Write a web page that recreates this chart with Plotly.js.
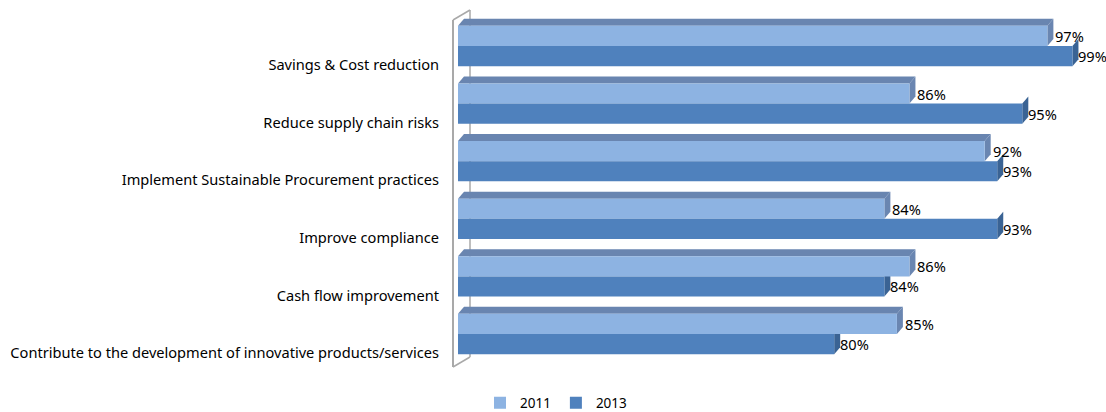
<!DOCTYPE html>
<html>
<head>
<meta charset="utf-8">
<script src="https://cdn.plot.ly/plotly-3.0.1.min.js"></script>
<style>
  html, body { margin: 0; padding: 0; background: #ffffff; }
  #chart { width: 1106px; height: 412px; }
</style>
</head>
<body>
<div id="chart"></div>
<script>
// ---- data ----
const categories = [
  'Savings & Cost reduction',
  'Reduce supply chain risks',
  'Implement Sustainable Procurement practices',
  'Improve compliance',
  'Cash flow improvement',
  'Contribute to the development of innovative products/services'
];
const years = ['2011', '2013'];
const values2011 = [0.97, 0.86, 0.92, 0.84, 0.86, 0.85];
const values2013 = [0.99, 0.95, 0.93, 0.93, 0.84, 0.80];

// ---- style ----
const frontColors = ['#8db3e2', '#4f81bd'];
const topColor = '#6985b0';
const side2011 = '#6a86b1';
const side2013 = '#3a6394';
const fontFamily = '"Noto Sans", "Open Sans", sans-serif';
const labelSize = 14.6;

const xMin = 0.5, xMax = 1.0;
const plotLeft = 458, plotRight = 1085, plotTop = 10, plotBottom = 372;
const idx = categories.map((c, i) => i);
const yTop = -0.625, yBot = 5.66;

const pxPerX = (plotRight - plotLeft) / (xMax - xMin);
const pxPerY = (plotBottom - plotTop) / (yBot - yTop);
const dx = 6 / pxPerX;   // 3D depth offset (horizontal)
const dy = 7 / pxPerY;   // 3D depth offset (vertical)
const half = 0.35;

const traces = [values2011, values2013].map((vals, k) => ({
  type: 'bar',
  orientation: 'h',
  name: years[k],
  x: vals,
  y: idx,
  marker: { color: frontColors[k], line: { width: 0 } },
  hoverinfo: 'skip'
}));

const shapes = [];
const annotations = [];
idx.forEach(i => {
  const v1 = values2011[i], v2 = values2013[i];
  const t1 = i - half, b1 = i;
  const t2 = i, b2 = i + half;
  shapes.push({
    type: 'path', xref: 'x', yref: 'y', layer: 'below',
    path: `M ${v2},${t2} L ${v2 + dx},${t2 - dy} L ${v2 + dx},${b2 - dy} L ${v2},${b2} Z`,
    fillcolor: side2013, line: { width: 0 }
  });
  shapes.push({
    type: 'path', xref: 'x', yref: 'y', layer: 'below',
    path: `M ${xMin},${t1} L ${v1},${t1} L ${v1 + dx},${t1 - dy} L ${xMin + dx},${t1 - dy} Z`,
    fillcolor: topColor, line: { width: 0 }
  });
  shapes.push({
    type: 'path', xref: 'x', yref: 'y', layer: 'below',
    path: `M ${v1},${t1} L ${v1 + dx},${t1 - dy} L ${v1 + dx},${b1 - dy} L ${v1},${b1} Z`,
    fillcolor: side2011, line: { width: 0 }
  });
  annotations.push({
    x: v1, y: i - half / 2, xref: 'x', yref: 'y',
    text: Math.round(v1 * 100) + '%', showarrow: false,
    xanchor: 'left', yanchor: 'middle', xshift: 6,
    font: { family: fontFamily, size: labelSize, color: '#000' }
  });
  annotations.push({
    x: v2, y: i + half / 2, xref: 'x', yref: 'y',
    text: Math.round(v2 * 100) + '%', showarrow: false,
    xanchor: 'left', yanchor: 'middle', xshift: 4,
    font: { family: fontFamily, size: labelSize, color: '#000' }
  });
});

// left "wall" of the 3D frame (paper coordinates)
const W = plotRight - plotLeft, H = plotBottom - plotTop;
const px = p => (p - plotLeft) / W;
const py = p => (plotBottom - p) / H;
const wallColor = '#a9a9a9';
shapes.push({ type: 'line', xref: 'paper', yref: 'paper', layer: 'below',
  x0: px(470), y0: py(10), x1: px(470), y1: py(357), line: { color: wallColor, width: 1.5 } });
shapes.push({ type: 'line', xref: 'paper', yref: 'paper', layer: 'above',
  x0: px(453), y0: py(20), x1: px(453), y1: py(367), line: { color: wallColor, width: 2 } });
shapes.push({ type: 'line', xref: 'paper', yref: 'paper', layer: 'above',
  x0: px(453), y0: py(20), x1: px(470), y1: py(10), line: { color: wallColor, width: 1.5 } });
shapes.push({ type: 'line', xref: 'paper', yref: 'paper', layer: 'above',
  x0: px(453), y0: py(367), x1: px(470), y1: py(357), line: { color: wallColor, width: 1.5 } });

const layout = {
  width: 1106, height: 412,
  margin: { l: plotLeft, r: 1106 - plotRight, t: plotTop, b: 412 - plotBottom, autoexpand: false },
  paper_bgcolor: '#ffffff', plot_bgcolor: 'rgba(0,0,0,0)',
  barmode: 'group', bargap: 0.3, bargroupgap: 0,
  font: { family: fontFamily, size: labelSize, color: '#000' },
  xaxis: {
    range: [xMin, xMax], showgrid: false, zeroline: false, automargin: false,
    showticklabels: false, showline: false, ticks: '', fixedrange: true
  },
  yaxis: {
    range: [yBot, yTop], showgrid: false, zeroline: false, showline: false, automargin: false,
    tickmode: 'array', tickvals: idx.map(i => i + 0.33), ticktext: categories,
    ticks: '', ticklabelstandoff: 18,
    tickfont: { family: fontFamily, size: labelSize, color: '#000' }, fixedrange: true
  },
  showlegend: true,
  legend: {
    orientation: 'h', xref: 'container', yref: 'container',
    x: 480 / 1106, xanchor: 'left', y: 9 / 412, yanchor: 'middle',
    font: { family: fontFamily, size: 13.5, color: '#000' },
    itemwidth: 30, traceorder: 'normal', bgcolor: 'rgba(0,0,0,0)'
  },
  shapes: shapes,
  annotations: annotations
};

Plotly.newPlot('chart', traces, layout, { displayModeBar: false, staticPlot: true });
</script>
</body>
</html>
